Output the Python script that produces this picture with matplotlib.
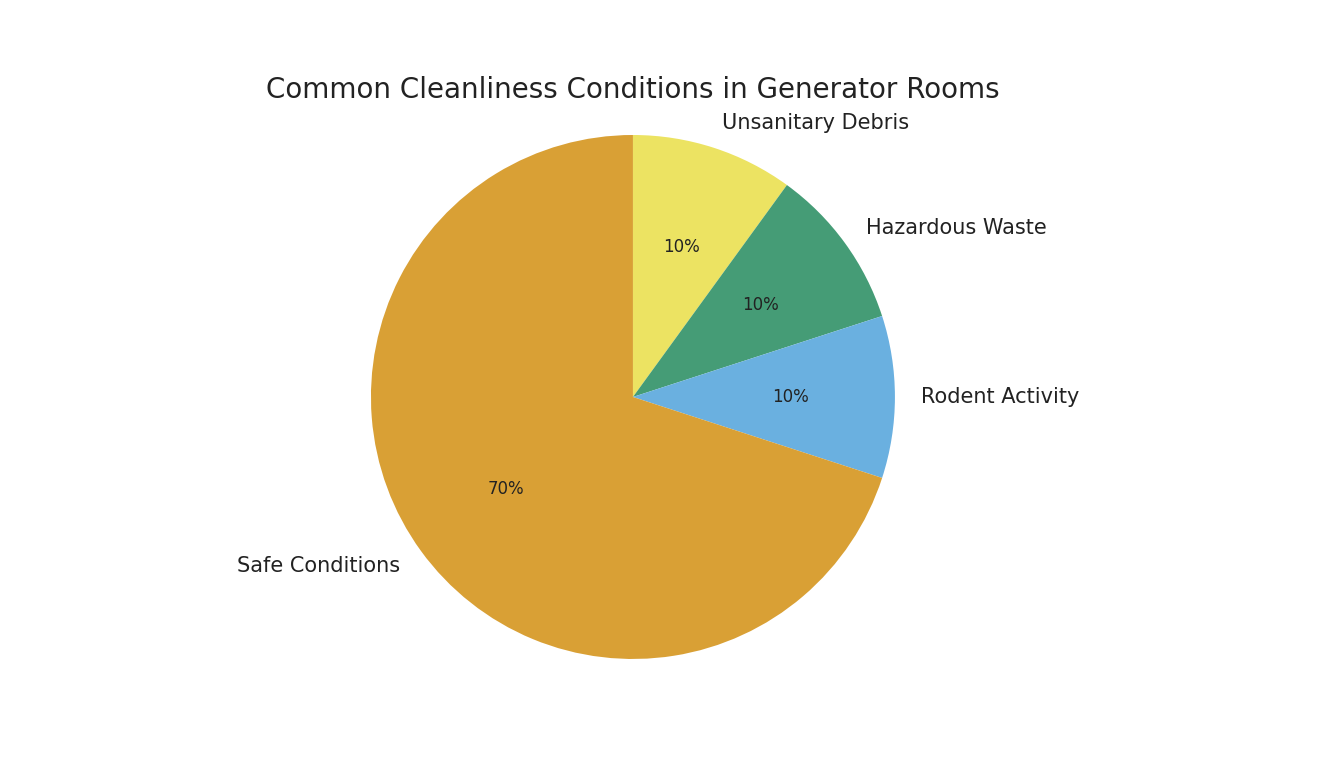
import matplotlib
matplotlib.use("Agg")
import matplotlib.pyplot as plt

plt.rcParams["font.family"] = ["DejaVu Sans"]

categories = ["Unsanitary Debris", "Hazardous Waste", "Rodent Activity", "Safe Conditions"]
values = [10, 10, 10, 70]
colors = ["#ECE362", "#459C76", "#6AB0E0", "#D9A035"]
title = "Common Cleanliness Conditions in Generator Rooms"

fig = plt.figure(figsize=(13.24, 7.8), dpi=100)
ax = fig.add_axes([0.2307, 0.0712, 0.4947, 0.8397])
wedges, texts, autotexts = ax.pie(
    values, labels=categories, colors=colors, autopct="%1.0f%%",
    startangle=90, counterclock=False,
    textprops={"fontsize": 15, "color": "#222222"},
)
for t in autotexts:
    t.set_fontsize(12)
    t.set_color("#222222")
ax.set_aspect("equal")
fig.text(633 / 1324, 1 - 90 / 780, title, ha="center", va="center",
         fontsize=20, color="#222222")
fig.savefig("out.png", dpi=100)
